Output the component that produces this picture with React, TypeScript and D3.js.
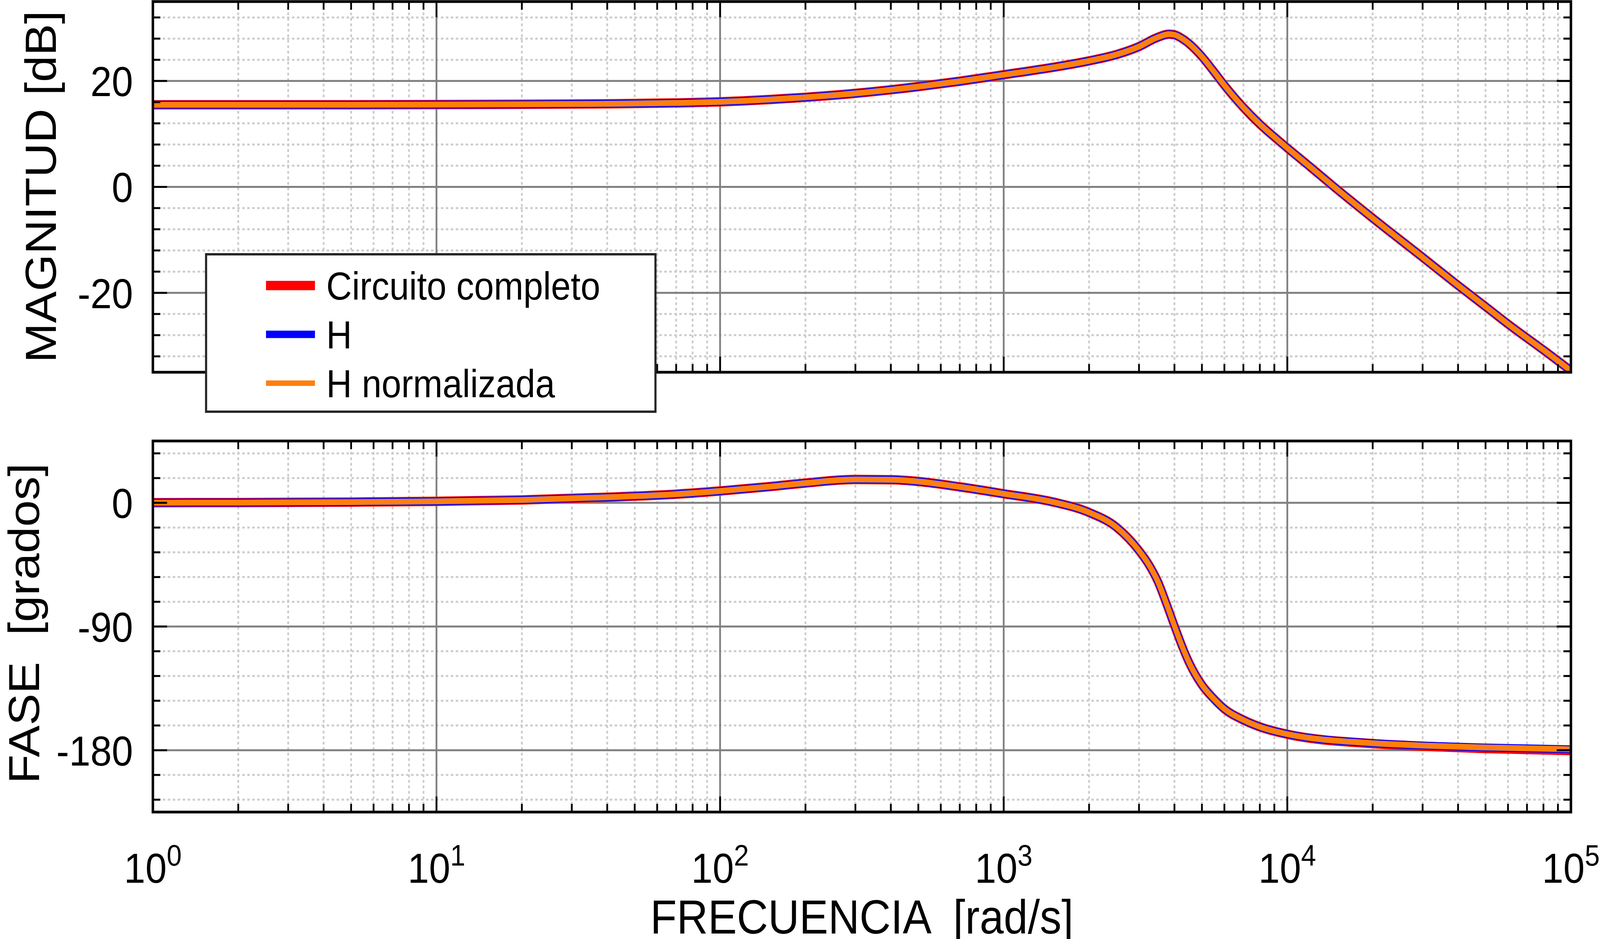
import React, { useEffect, useState } from "react";
import * as d3 from "d3";

// ---------- DATA ----------
const freq = [1, 2, 5, 10, 20, 40, 70, 100, 150, 200, 300, 500, 700, 1000, 1500, 2000, 2500, 3000, 3440, 3820, 4000, 4330, 5000, 5450, 6000, 7000, 8000, 9150, 10000, 12000, 14400, 20000, 30000, 40000, 50000, 60000, 80000, 100000];
const magH = [15.5, 15.5, 15.51, 15.54, 15.6, 15.69, 15.85, 16.06, 16.5, 16.92, 17.66, 18.94, 19.95, 21.18, 22.6, 23.8, 25.0, 26.5, 28.1, 28.85, 28.73, 27.75, 24.6, 22.1, 19.2, 15.0, 11.85, 9.1, 7.35, 3.85, 0.3, -5.9, -13.3, -18.6, -22.6, -25.9, -30.8, -34.7];
const magCircuito = [15.5, 15.5, 15.51, 15.54, 15.6, 15.69, 15.85, 16.06, 16.5, 16.92, 17.66, 18.94, 19.95, 21.18, 22.6, 23.8, 25.0, 26.5, 28.1, 28.85, 28.73, 27.75, 24.6, 22.1, 19.2, 15.0, 11.85, 9.1, 7.35, 3.85, 0.3, -5.9, -13.3, -18.6, -22.6, -25.9, -30.8, -34.7];
const magHNorm = [15.5, 15.5, 15.51, 15.54, 15.6, 15.69, 15.85, 16.06, 16.5, 16.92, 17.66, 18.94, 19.95, 21.18, 22.6, 23.8, 25.0, 26.5, 28.1, 28.85, 28.73, 27.75, 24.6, 22.1, 19.2, 15.0, 11.85, 9.1, 7.35, 3.85, 0.3, -5.9, -13.3, -18.6, -22.6, -25.9, -30.8, -34.7];

const freqPh = [1, 2, 5, 10, 20, 40, 70, 100, 150, 200, 300, 400, 500, 700, 1000, 1500, 2000, 2500, 3000, 3250, 3500, 3750, 4000, 4250, 4500, 5000, 5500, 6000, 7000, 8000, 10000, 20000, 30000, 50000, 100000];
const phaseH = [0.1, 0.2, 0.55, 1.1, 2.1, 4.1, 6.3, 8.6, 11.8, 14.4, 17.0, 16.8, 15.5, 11.6, 6.6, 0.5, -7.0, -17.8, -34.8, -45.0, -57.5, -73.5, -89.5, -104.0, -116.0, -132.5, -142.5, -150.0, -158.0, -163.0, -168.3, -174.9, -176.6, -178.0, -179.3];
const phaseCircuito = [0.1, 0.2, 0.55, 1.1, 2.1, 4.1, 6.3, 8.6, 11.8, 14.4, 17.0, 16.8, 15.5, 11.6, 6.6, 0.5, -7.0, -17.8, -34.8, -45.0, -57.5, -73.5, -89.5, -104.0, -116.0, -132.5, -142.5, -150.0, -158.0, -163.0, -168.4, -175.2, -177.1, -178.8, -180.3];
const phaseHNorm = [0.1, 0.2, 0.55, 1.1, 2.1, 4.1, 6.3, 8.6, 11.8, 14.4, 17.0, 16.8, 15.5, 11.6, 6.6, 0.5, -7.0, -17.8, -34.8, -45.0, -57.5, -73.5, -89.5, -104.0, -116.0, -132.5, -142.5, -150.0, -158.0, -163.0, -168.3, -174.9, -176.6, -178.0, -179.3];

const xDecades = [0, 1, 2, 3, 4, 5];
const magMajorTicks = [-20, 0, 20];
const phaseMajorTicks = [-180, -90, 0];
const legendLabels = ["Circuito completo", "H", "H normalizada"];
const seriesColors = ["#ff0000", "#0000ff", "#ff7f0e"];
const titles = { mag: "MAGNITUD [dB]", phase: "FASE  [grados]", x: "FRECUENCIA  [rad/s]" };

// ---------- LAYOUT ----------
const W = 4511;
const H = 2404;
const X0 = 431;
const X1 = 4429;
const FONT = "'Liberation Sans', Arial, Helvetica, sans-serif";
const widths = [24, 20, 15];

const xScale = d3.scaleLog().domain([1, 1e5]).range([X0, X1]);
const yMag = d3.scaleLinear().domain([-35, 35]).range([953, 4]);
const yPh = d3.scaleLinear().domain([-225, 45]).range([2079, 1129]);

const minorX: number[] = [];
for (let dec = 0; dec < 5; dec++) {
  for (let k = 2; k <= 9; k++) minorX.push(k * Math.pow(10, dec));
}
const magMinor = d3.range(-32, 33, 4).filter((v) => !magMajorTicks.includes(v));
const phMinor = d3.range(-216, 37, 18).filter((v) => !phaseMajorTicks.includes(v));

function Panel({ y, minor, major, fs, series, clipId, labelFmt }: any) {
  const [yb, yt] = y.range();
  const line = (vals: number[]) =>
    d3
      .line<number>()
      .x((_, i) => xScale(fs[i]))
      .y((v) => y(v))
      .curve(d3.curveMonotoneX)(vals) as string;
  return (
    <g>
      <defs>
        <clipPath id={clipId}>
          <rect x={X0} y={yt} width={X1 - X0} height={yb - yt} />
        </clipPath>
      </defs>
      {minorX.map((f) => (
        <line key={"vx" + f} x1={xScale(f)} x2={xScale(f)} y1={yt} y2={yb} stroke="#cccccc" strokeWidth={5} strokeDasharray="7,7" />
      ))}
      {minor.map((v: number) => (
        <line key={"hy" + v} x1={X0} x2={X1} y1={y(v)} y2={y(v)} stroke="#cccccc" strokeWidth={5} strokeDasharray="7,7" />
      ))}
      {xDecades.slice(1, -1).map((d) => (
        <line key={"VX" + d} x1={xScale(Math.pow(10, d))} x2={xScale(Math.pow(10, d))} y1={yt} y2={yb} stroke="#808080" strokeWidth={5} />
      ))}
      {major.map((v: number) => (
        <line key={"HY" + v} x1={X0} x2={X1} y1={y(v)} y2={y(v)} stroke="#808080" strokeWidth={5} />
      ))}
      <g clipPath={`url(#${clipId})`}>
        {series.map((vals: number[], i: number) => (
          <path key={i} d={line(vals)} fill="none" stroke={seriesColors[i]} strokeWidth={widths[i]} strokeLinejoin="round" strokeLinecap="round" />
        ))}
      </g>
      {minorX.map((f) => (
        <g key={"tx" + f}>
          <line x1={xScale(f)} x2={xScale(f)} y1={yt} y2={yt + 21} stroke="#000" strokeWidth={5} />
          <line x1={xScale(f)} x2={xScale(f)} y1={yb} y2={yb - 21} stroke="#000" strokeWidth={5} />
        </g>
      ))}
      {xDecades.map((d) => (
        <g key={"TX" + d}>
          <line x1={xScale(Math.pow(10, d))} x2={xScale(Math.pow(10, d))} y1={yt} y2={yt + 40} stroke="#000" strokeWidth={5} />
          <line x1={xScale(Math.pow(10, d))} x2={xScale(Math.pow(10, d))} y1={yb} y2={yb - 40} stroke="#000" strokeWidth={5} />
        </g>
      ))}
      {minor.map((v: number) => (
        <g key={"ty" + v}>
          <line x1={X0} x2={X0 + 21} y1={y(v)} y2={y(v)} stroke="#000" strokeWidth={5} />
          <line x1={X1} x2={X1 - 21} y1={y(v)} y2={y(v)} stroke="#000" strokeWidth={5} />
        </g>
      ))}
      {major.map((v: number) => (
        <g key={"TY" + v}>
          <line x1={X0} x2={X0 + 40} y1={y(v)} y2={y(v)} stroke="#000" strokeWidth={5} />
          <line x1={X1} x2={X1 - 40} y1={y(v)} y2={y(v)} stroke="#000" strokeWidth={5} />
          <text x={375} y={y(v) + 39} textAnchor="end" fontSize={108} fontFamily={FONT} fill="#000">
            {labelFmt(v)}
          </text>
        </g>
      ))}
      <rect x={X0} y={yt} width={X1 - X0} height={yb - yt} fill="none" stroke="#000" strokeWidth={7} />
    </g>
  );
}

export default function App() {
  const [size, setSize] = useState({ w: window.innerWidth || W, h: window.innerHeight || H });
  useEffect(() => {
    const onResize = () => setSize({ w: window.innerWidth || W, h: window.innerHeight || H });
    onResize();
    document.body.style.margin = "0";
    document.body.style.overflow = "hidden";
    window.addEventListener("resize", onResize);
    return () => window.removeEventListener("resize", onResize);
  }, []);
  const legendX = 581;
  const legendY = 651;
  const legendRowY = [731, 856, 981];
  return (
    <svg
      width={size.w}
      height={size.h}
      viewBox={`0 0 ${W} ${H}`}
      preserveAspectRatio="none"
      style={{ position: "absolute", left: 0, top: 0, display: "block", background: "#fff" }}
    >
      <rect x={0} y={0} width={W} height={H} fill="#fff" />
      <Panel y={yMag} minor={magMinor} major={magMajorTicks} fs={freq} series={[magCircuito, magH, magHNorm]} clipId="clipMag" labelFmt={(v: number) => String(v)} />
      <Panel y={yPh} minor={phMinor} major={phaseMajorTicks} fs={freqPh} series={[phaseCircuito, phaseH, phaseHNorm]} clipId="clipPh" labelFmt={(v: number) => String(v)} />

      {xDecades.map((d) => (
        <text key={"xl" + d} x={xScale(Math.pow(10, d))} y={2260} textAnchor="middle" fontSize={108} fontFamily={FONT} fill="#000">
          <tspan>10</tspan>
          <tspan dy={-44} fontSize={76}>{d}</tspan>
        </text>
      ))}

      <text x={2430} y={2390} textAnchor="middle" fontSize={122} fontFamily={FONT} fill="#000" style={{ whiteSpace: "pre" }}>
        {titles.x}
      </text>
      <text transform={`translate(158,478) rotate(-90)`} textAnchor="middle" fontSize={122} fontFamily={FONT} fill="#000" style={{ whiteSpace: "pre" }}>
        {titles.mag}
      </text>
      <text transform={`translate(110,1596) rotate(-90)`} textAnchor="middle" fontSize={122} fontFamily={FONT} fill="#000" style={{ whiteSpace: "pre" }}>
        {titles.phase}
      </text>

      <rect x={legendX} y={legendY} width={1267} height={403} fill="#fff" stroke="#262626" strokeWidth={6} />
      {legendLabels.map((lab, i) => (
        <g key={lab}>
          <line x1={750} x2={888} y1={legendRowY[i]} y2={legendRowY[i]} stroke={seriesColors[i]} strokeWidth={[24, 19, 14][i]} />
          <text x={920} y={legendRowY[i] + 36} fontSize={100} fontFamily={FONT} fill="#000">
            {lab}
          </text>
        </g>
      ))}
    </svg>
  );
}
